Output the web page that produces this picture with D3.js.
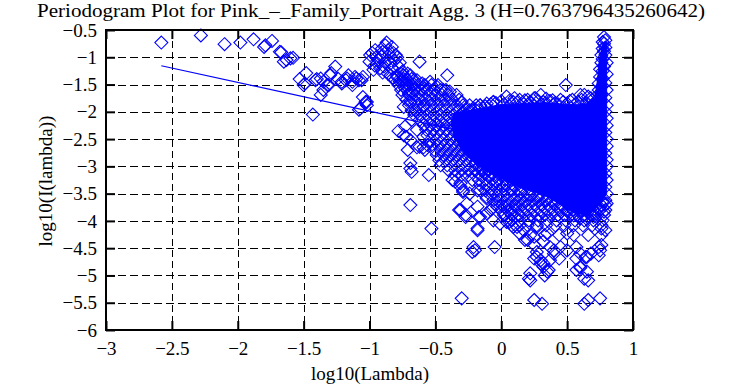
<!DOCTYPE html>
<html>
<head>
<meta charset="utf-8">
<script src="https://cdnjs.cloudflare.com/ajax/libs/d3/7.8.5/d3.min.js"></script>
<style>
  body { margin: 0; background: #fff; }
  svg text { font-family: "Liberation Serif", "Times New Roman", serif; fill: #000; }
</style>
</head>
<body>
<script>
'use strict';

// tick values
const xTicks = [-3, -2.5, -2, -1.5, -1, -0.5, 0, 0.5, 1];
const yTicks = [-6, -5.5, -5, -4.5, -4, -3.5, -3, -2.5, -2, -1.5, -1, -0.5];

// low frequency points (left part, read one by one)
const lowPts = [
  [-2.58,-0.73],[-2.28,-0.60],[-2.10,-0.76],[-1.98,-0.73],[-1.88,-0.67],[-1.80,-0.81],[-1.74,-0.70],
  [-1.67,-0.91],[-1.63,-1.05],[-1.58,-1.01],[-1.79,-0.78],[-1.68,-0.90],[-1.65,-1.08],[-1.60,-1.02],
  [-1.53,-1.40],[-1.48,-1.29],[-1.50,-1.51],[-1.43,-2.05],[-1.40,-1.40],[-1.37,-1.69],[-1.35,-1.45],
  [-1.32,-1.51],[-1.26,-1.17],[-1.30,-1.33],[-1.49,-1.48],[-1.41,-1.42],[-1.37,-1.39],[-1.35,-1.60],
  [-1.31,-1.51],[-1.29,-1.29],[-1.24,-1.39],[-1.21,-1.48],[-1.18,-1.42],[-1.16,-1.33],[-1.13,-1.45],
  [-1.11,-1.36],[-1.08,-1.42],[-1.05,-1.36],[-1.21,-1.45],[-1.17,-1.39],[-1.13,-1.51],[-1.10,-1.39],
  [-1.06,-1.42],[-1.05,-1.73],[-1.02,-1.82],[-1.08,-1.96],[-1.03,-1.82],[-1.07,-1.94],[-1.02,-1.88]
];

// hump near log10(lambda) = -0.9
const humpPts = [
  [-0.995,-0.96],[-0.957,-0.87],[-0.93,-1.05],[-0.905,-0.84],[-0.88,-0.78],[-0.86,-0.87],[-0.83,-0.81],
  [-0.80,-0.96],[-0.84,-1.11],[-0.89,-1.17],[-0.97,-1.23],[-0.94,-1.11],[-0.78,-1.17],[-0.75,-1.26],
  [-0.79,-1.36],[-0.77,-1.45],[-0.73,-1.57],[-0.70,-1.66],[-0.62,-1.08],[-0.87,-0.73],[-0.91,-0.98],
  [-0.86,-1.05],[-0.82,-0.92],[-1.00,-1.08],[-0.95,-1.00],
  [-0.98,-0.92],[-0.96,-1.15],[-0.92,-1.20],[-0.90,-0.90],[-0.88,-1.10],[-0.85,-0.95],[-0.83,-1.20],
  [-0.81,-1.06],[-0.79,-1.00],[-0.77,-1.10],[-0.76,-1.30],[-0.74,-1.40],[-0.72,-1.48],[-0.71,-1.30],
  [-0.68,-1.40],[-0.66,-1.50],[-0.90,-1.28],[-0.86,-1.30],[-0.82,-1.38]
];

// middle points around the dense band
const midPts = [
  [-0.64,-1.42],[-0.60,-1.48],[-0.58,-1.57],[-0.67,-1.66],[-0.69,-1.82],[-0.74,-1.91],[-0.65,-1.97],
  [-0.59,-1.91],[-0.68,-2.15],[-0.73,-2.27],[-0.74,-2.43],[-0.69,-2.52],[-0.64,-2.33],[-0.59,-2.46],
  [-0.62,-2.64],[-0.56,-2.61],[-0.41,-1.33],[-0.54,-1.45],[-0.49,-1.54],[-0.44,-1.60],[-0.39,-1.63],
  [-0.34,-1.69],[-0.30,-1.82],[-0.29,-2.03],[-0.24,-1.97],[-0.16,-1.88],[-0.06,-1.82],
  [-0.78,-2.35],[-0.72,-2.46],[-0.64,-2.65],[-0.59,-2.65],[-0.69,-2.94],[-0.71,-2.70],[-0.58,-2.70],
  [-0.69,-3.04],[-0.68,-3.10],[-0.55,-3.16],[-0.69,-3.71],[-0.53,-4.14],[-0.37,-3.25],[-0.35,-3.28],
  [-0.31,-3.31],[-0.29,-3.44],[-0.18,-3.44],[-0.26,-3.68],[-0.32,-3.80],[-0.27,-3.93],[-0.18,-4.17],
  [-0.17,-3.93],[-0.11,-3.86],[-0.07,-3.77],[-0.06,-3.99],[-0.01,-4.05],[0.04,-4.02],[0.09,-4.11],
  [-0.11,-3.59],[-0.07,-3.50],[0.02,-3.74],[0.07,-3.80],[-0.31,-3.37],[-0.29,-3.47],[-0.24,-3.50],
  [-0.16,-3.44],[-0.11,-3.56],[-0.18,-3.74],[-0.31,-3.80],[-0.27,-3.89],[-0.16,-3.93],[-0.18,-4.14],
  [-0.08,-3.80],[-0.03,-3.74],[0.02,-3.89],[0.06,-4.02],
  [-0.21,-4.48],[-0.20,-4.54],[-0.22,-4.57],[-0.05,-4.48],[-0.30,-5.42]
];

// dense band, one row per y value: [y, [x, x, ...]]
const bandRows = [
  [-1.33, [-0.84,-0.79,-0.74,-0.69]],
  [-1.42, [-0.81,-0.76,-0.71,-0.66]],
  [-1.51, [-0.78,-0.73,-0.68,-0.63,-0.58,-0.53,-0.48]],
  [-1.60, [-0.76,-0.71,-0.66,-0.61,-0.56,-0.51,-0.46,-0.42]],
  [-1.69, [-0.75,-0.70,-0.65,-0.60,-0.55,-0.50,-0.45,-0.40]],
  [-1.78, [-0.72,-0.67,-0.62,-0.57,-0.52,-0.47,-0.42,-0.37,-0.32]],
  [-1.88, [-0.70,-0.64,-0.59,-0.54,-0.49,-0.44,-0.39,-0.34,-0.29,-0.24,-0.19]],
  [-1.97, [-0.68,-0.62,-0.57,-0.52,-0.47,-0.42,-0.37,-0.32,-0.27,-0.22,-0.17]],
  [-2.06, [-0.66,-0.61,-0.56,-0.51,-0.46,-0.41,-0.36,-0.31,-0.26,-0.21,-0.16]],
  [-2.15, [-0.62,-0.57,-0.52,-0.47,-0.42,-0.37,-0.32,-0.27,-0.22]],
  [-2.24, [-0.59,-0.54,-0.49,-0.44,-0.39,-0.34,-0.29,-0.24]],
  [-2.33, [-0.57,-0.52,-0.47,-0.42,-0.37,-0.32,-0.27,-0.22]],
  [-2.43, [-0.56,-0.51,-0.46,-0.41,-0.36,-0.31,-0.26]],
  [-2.52, [-0.54,-0.49,-0.44,-0.39,-0.34,-0.29,-0.24]],
  [-2.61, [-0.53,-0.48,-0.43,-0.38,-0.33,-0.28,-0.23]],
  [-2.70, [-0.51,-0.46,-0.41,-0.36,-0.31,-0.26,-0.21]],
  [-2.79, [-0.49,-0.44,-0.39,-0.34,-0.29,-0.24,-0.19]],
  [-2.89, [-0.47,-0.42,-0.37,-0.32,-0.27,-0.22,-0.17,-0.12]],
  [-2.98, [-0.46,-0.41,-0.36,-0.31,-0.26,-0.21,-0.16,-0.11]],
  [-3.07, [-0.40,-0.35,-0.30,-0.25,-0.20,-0.15,-0.10,-0.05]],
  [-3.16, [-0.35,-0.30,-0.25,-0.20,-0.15,-0.10,-0.05,0.00]],
  [-3.25, [-0.22,-0.17,-0.12,-0.07,-0.02,0.03,0.08]],
  [-3.34, [-0.16,-0.11,-0.06,-0.01,0.04,0.09]],
  [-3.44, [-0.12,-0.07,-0.02,0.03,0.08,0.13,0.18]],
  [-3.53, [-0.08,-0.03,0.02,0.07,0.12,0.17,0.22,0.27,0.32]],
  [-3.62, [-0.06,-0.01,0.04,0.09,0.14,0.19,0.24,0.29,0.34,0.39]],
  [-3.71, [-0.04,0.01,0.06,0.11,0.16,0.21,0.26,0.31,0.36,0.41,0.46,0.51,0.56,0.61,0.66,0.71,0.76]],
  [-3.80, [0.00,0.05,0.10,0.15,0.20,0.25,0.30,0.35,0.40,0.45,0.50,0.55,0.60,0.65,0.70,0.75,0.79]],
  [-3.89, [0.03,0.08,0.13,0.18,0.23,0.28,0.33,0.38,0.43,0.48,0.53,0.58,0.63,0.68,0.73,0.78]],
  [-3.99, [0.08,0.14,0.21,0.28,0.35,0.42,0.49,0.56,0.63,0.70,0.77]],
  [-4.08, [0.14,0.20,0.27,0.34,0.41,0.48,0.55,0.62,0.69,0.76]],
  [-4.26, [0.22,0.33,0.44,0.55,0.66,0.76]]
];

// points on the rim of the dense core and up the high frequency spike
const edgePts = [
  [0.04,-1.72],[0.14,-1.78],[0.25,-1.75],[0.30,-1.69],[0.20,-1.78],[0.26,-1.75],[0.32,-1.82],
  [0.45,-1.78],[0.54,-1.78],[0.63,-1.69],[0.68,-1.75],[0.22,-1.82],[0.49,-1.51],[0.60,-1.69],
  [-0.06,-1.82],[-0.16,-1.88],[-0.11,-1.85],[0.00,-1.80],[0.09,-1.82],[0.37,-1.80],[0.41,-1.84],
  [0.58,-1.82],[0.72,-1.80],[-0.20,-1.95],[0.10,-1.75],[0.50,-1.85],
  [-0.12,-1.90],[-0.08,-1.86],[-0.04,-1.84],[0.02,-1.86],[0.06,-1.80],[0.12,-1.83],[0.17,-1.86],
  [0.18,-1.79],[0.23,-1.84],[0.28,-1.80],[0.34,-1.76],[0.35,-1.86],[0.39,-1.79],[0.43,-1.86],
  [0.47,-1.82],[0.52,-1.80],[0.56,-1.86],[0.61,-1.78],[0.65,-1.84],[0.70,-1.86],[0.66,-1.72],
  [0.73,-1.70],[0.74,-1.60],[0.74,-1.48],[0.75,-1.36],[0.75,-1.22],[0.76,-1.10],[0.76,-0.96],
  [0.77,-0.84],[0.77,-0.72],
  [0.78,-0.63],[0.79,-0.69],[0.78,-0.75],[0.79,-0.82],[0.78,-0.89],[0.79,-0.96],[0.77,-1.03],
  [0.80,-1.10],[0.78,-1.17],[0.77,-1.25],[0.80,-1.31],[0.77,-1.39],[0.79,-1.47],[0.76,-1.54],
  [0.80,-1.60],[0.76,-1.67],[0.79,-1.74],[0.75,-1.80],[0.80,-1.88],[0.79,-2.00],[0.80,-2.12],
  [0.80,-2.25],[0.79,-2.38],[0.80,-2.50],[0.80,-2.63],[0.79,-2.76],[0.80,-2.88],[0.80,-3.00],
  [0.79,-3.13],[0.80,-3.25],[0.79,-3.38],[0.80,-3.50],[0.79,-3.62],
  [-0.22,-2.12],[-0.21,-2.22],[-0.24,-2.32],[-0.21,-2.42],[-0.23,-2.55],[-0.20,-2.64],[-0.22,-2.75],
  [-0.18,-2.84],[-0.19,-2.95],[-0.15,-3.02],[-0.13,-3.12],[-0.09,-3.20],
  [-0.04,-3.28],[0.02,-3.36],[0.08,-3.42],[0.15,-3.47],[0.21,-3.52],[0.28,-3.56],[0.34,-3.62],
  [0.40,-3.68],[0.45,-3.76],[0.50,-3.82],[0.55,-3.90],[0.60,-3.95],[0.65,-3.97],[0.70,-3.88],
  [0.74,-3.78],[0.77,-3.64]
];

// scattered points below the core
const highPts = [
  [0.12,-4.11],[0.17,-4.17],[0.20,-4.35],[0.25,-4.44],[0.27,-4.66],[0.22,-4.96],[0.21,-5.06],
  [0.25,-5.45],[0.31,-5.52],[0.32,-4.84],[0.35,-4.93],[0.30,-4.72],[0.37,-4.72],[0.40,-4.54],
  [0.45,-4.48],[0.50,-4.54],[0.57,-4.48],[0.60,-4.60],[0.65,-4.66],[0.74,-4.48],[0.60,-4.86],
  [0.65,-4.93],[0.63,-5.06],[0.66,-5.09],[0.63,-5.52],[0.66,-5.45],[0.75,-5.42],[0.50,-4.23],
  [0.35,-4.23],[0.27,-4.11],[0.76,-4.14],[0.79,-3.71],[0.70,-3.93],[0.22,-5.09],[0.33,-5.00],
  [0.36,-4.90],[0.32,-4.78],[0.57,-4.90],[0.60,-4.84],[0.25,-4.69],[0.30,-4.78],[0.40,-4.60],
  [0.44,-4.69],[0.57,-4.69],[0.64,-4.66],[0.68,-4.60],[0.75,-4.54],[0.74,-4.63],[0.08,-4.08],
  [0.14,-4.23],[0.18,-4.35],[0.25,-4.29],[0.32,-4.38],[0.37,-4.48],[0.27,-4.57],[0.07,-3.86],
  [0.11,-3.74],[0.13,-3.89],[0.80,-3.68],[0.78,-3.83],[0.79,-4.17],[0.76,-4.44]
];

// outline of the area where the points overlap into solid blue
const coreX = [-0.36,-0.25,-0.12,-0.01,0.14,0.33,0.52,0.64,0.71,0.73,0.745,0.765,0.785,
               0.80,0.80,0.80,0.80,0.80,
               0.75,0.66,0.56,0.46,0.36,0.26,0.13,0.03,-0.05,-0.14,-0.22,-0.30,-0.36,-0.38];
const coreY = [-2.02,-1.98,-1.92,-1.87,-1.85,-1.83,-1.87,-1.85,-1.74,-1.42,-1.05,-0.80,-0.72,
               -0.72,-1.23,-2.15,-3.07,-3.50,
               -3.70,-3.90,-3.86,-3.72,-3.57,-3.48,-3.38,-3.26,-3.16,-3.05,-2.90,-2.70,-2.45,-2.20];

// least squares line, slope 1 - 2H
const fitX = [-2.58, 0.80];
const fitY = [-1.155, -2.938];

const H = "0.763796435260642";

let margin = {top: 30, right: 105, bottom: 55, left: 106},
    width = 738 - margin.left - margin.right,
    height = 385 - margin.top - margin.bottom;

let serif = '"Liberation Serif", "Times New Roman", serif';

let svg = d3.select("body").append("svg")
    .attr("width", 738)
    .attr("height", 385);

let g = svg.append("g")
    .attr("transform", "translate(" + margin.left + "," + margin.top + ")");

let x = d3.scaleLinear().domain([-3, 1]).range([0, width]);
let y = d3.scaleLinear().domain([-6, -0.5]).range([height, 0]);

let fmt = d3.format("");

// dashed grid
g.append("g").selectAll("line")
    .data(xTicks.slice(1, -1))
    .enter().append("line")
    .attr("x1", d => Math.round(x(d)) + 0.5).attr("x2", d => Math.round(x(d)) + 0.5)
    .attr("y1", 0).attr("y2", height)
    .style("stroke", "#000").style("stroke-width", 1).style("stroke-dasharray", "7,4");

g.append("g").selectAll("line")
    .data(yTicks.slice(1, -1))
    .enter().append("line")
    .attr("y1", d => Math.round(y(d)) + 0.5).attr("y2", d => Math.round(y(d)) + 0.5)
    .attr("x1", 0).attr("x2", width)
    .style("stroke", "#000").style("stroke-width", 1).style("stroke-dasharray", "8,4");

// solid core of overlapping points
g.append("path")
    .datum(d3.zip(coreX, coreY))
    .attr("d", d3.line().x(d => x(d[0])).y(d => y(d[1])).curve(d3.curveLinearClosed))
    .style("fill", "#0000ff")
    .style("stroke", "#0000ff")
    .style("stroke-width", 1);

// all points as open diamonds
let bandPts = [];
bandRows.forEach(row => row[1].forEach(v => bandPts.push([v, row[0]])));
let allPts = [].concat(lowPts, humpPts, midPts, bandPts, edgePts, highPts);

let r = 6.5;
g.append("g").selectAll("path")
    .data(allPts)
    .enter().append("path")
    .attr("d", d => {
        let cx = x(d[0]), cy = y(d[1]);
        return "M" + cx + "," + (cy - r) + "L" + (cx + r) + "," + cy +
               "L" + cx + "," + (cy + r) + "L" + (cx - r) + "," + cy + "Z";
    })
    .style("fill", "none")
    .style("stroke", "#0000ff")
    .style("stroke-width", 1.1);

// fitted line
g.append("path")
    .datum(d3.zip(fitX, fitY))
    .attr("d", d3.line().x(d => x(d[0])).y(d => y(d[1])))
    .style("fill", "none")
    .style("stroke", "#0000ff")
    .style("stroke-width", 1.2);

// axes with inward ticks on all four sides
function styleAxis(sel) {
    sel.attr("font-family", serif).attr("font-size", 19);
    sel.select(".domain").remove();
    sel.selectAll(".tick line").style("stroke", "#000").style("stroke-width", 2);
    sel.selectAll(".tick text")
        .style("font-family", serif)
        .style("font-size", "19px")
        .style("fill", "#000");
}

g.append("g")
    .attr("transform", "translate(0," + height + ")")
    .call(d3.axisBottom(x).tickValues(xTicks).tickFormat(fmt).tickSize(-9).tickPadding(12))
    .call(styleAxis);

g.append("g")
    .call(d3.axisTop(x).tickValues(xTicks).tickFormat("").tickSize(-9))
    .call(styleAxis);

g.append("g")
    .call(d3.axisLeft(y).tickValues(yTicks).tickFormat(fmt).tickSize(-9).tickPadding(9))
    .call(styleAxis);

g.append("g")
    .attr("transform", "translate(" + width + ",0)")
    .call(d3.axisRight(y).tickValues(yTicks).tickFormat("").tickSize(-9))
    .call(styleAxis);

// border
g.append("rect")
    .attr("x", 0).attr("y", 0)
    .attr("width", width).attr("height", height)
    .style("fill", "none")
    .style("stroke", "#000")
    .style("stroke-width", 2);

// labels
svg.append("text")
    .attr("x", 371)
    .attr("y", 17)
    .attr("textLength", 668)
    .attr("lengthAdjust", "spacingAndGlyphs")
    .style("text-anchor", "middle")
    .style("font-size", "19px")
    .text("Periodogram Plot for Pink_\u2013_Family_Portrait Agg. 3 (H=" + H + ")");

svg.append("text")
    .attr("x", 370)
    .attr("y", 380)
    .style("text-anchor", "middle")
    .style("font-size", "19px")
    .text("log10(Lambda)");

svg.append("text")
    .attr("transform", "translate(52,181) rotate(-90)")
    .style("text-anchor", "middle")
    .style("font-size", "19px")
    .text("log10(I(lambda))");
</script>
</body>
</html>
